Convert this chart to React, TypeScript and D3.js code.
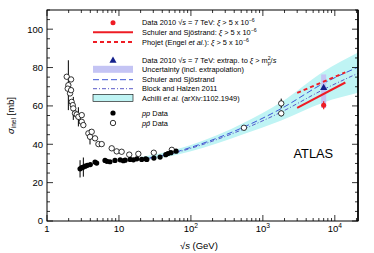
import React from "react";
import * as d3 from "d3";

const width = 374;
const height = 253;
const margin = { top: 10, right: 16, bottom: 32, left: 47 };
const font = "Liberation Sans, Arial, Helvetica, sans-serif";

// pp data: [sqrt(s) GeV, sigma_inel mb, error mb]
const ppData: [number, number, number][] = [
  [2.88, 27.2, 4.5], [3.05, 27.8, 0], [3.2, 28.1, 5], [3.4, 28.6, 0], [3.64, 29.0, 0],
  [4.0, 29.4, 0], [4.65, 30.7, 0], [4.9, 30.2, 0], [6.4, 31.6, 0], [6.8, 31.1, 0],
  [7.5, 30.9, 0], [8.8, 31.6, 0], [10.4, 31.9, 0], [11.5, 31.4, 0], [12.2, 31.7, 0],
  [14.3, 32.1, 0], [15.9, 31.9, 0], [17.7, 32.4, 0], [20.7, 32.1, 0], [23.5, 32.4, 0],
  [24.4, 32.1, 0], [30.6, 32.8, 0], [37.3, 33.3, 0], [44.7, 34.6, 0], [48.0, 35.2, 0],
  [52.8, 35.6, 0], [62.2, 36.4, 0],
];

// p-pbar data: [sqrt(s) GeV, sigma_inel mb, error mb]
const ppbarData: [number, number, number][] = [
  [1.88, 75.2, 0], [1.98, 70.8, 13], [1.94, 69.0, 0], [2.09, 66.5, 0], [2.16, 73.8, 0],
  [2.16, 68.2, 0], [2.2, 62.1, 0], [2.28, 60.4, 0], [2.32, 58.7, 6], [2.45, 56.1, 0],
  [2.59, 55.5, 0], [2.73, 54.3, 5], [3.04, 55.2, 0], [3.04, 51.7, 0], [3.2, 50.0, 0],
  [3.76, 45.7, 0], [3.96, 43.9, 4], [4.18, 46.5, 0], [4.65, 43.1, 0], [5.18, 40.1, 0],
  [5.76, 40.1, 0], [7.93, 37.9, 0], [9.3, 36.3, 0], [10.9, 36.1, 0], [13.9, 34.6, 0],
  [18.6, 35.0, 0], [30.5, 35.6, 0], [54.3, 37.1, 0], [546, 48.6, 0.8], [1800, 61.3, 2.5],
  [1800, 56.1, 1.5],
];

// ATLAS 2010 at 7 TeV
const atlasSqrtS = 7000;
const atlasXi = { value: 60.3, err: 2.1 };
const atlasExtrap = { value: 69.4, lo: 59.0, hi: 76.4 };

// predictions for xi > 5e-6
const ssXi: [number, number][] = [[3000, 59.0], [14000, 72.2]];
const phojetXi: [number, number][] = [[3000, 66.8], [14000, 77.5]];

// total inelastic predictions
const ssTotal: [number, number][] = [
  [20, 32.2], [50, 35.0], [100, 38.4], [546, 49.0], [1800, 58.6], [7000, 71.8], [21000, 80.2],
];
const blockHalzen: [number, number][] = [
  [20, 32.0], [50, 34.7], [100, 37.9], [546, 48.0], [1800, 56.8], [7000, 68.6], [21000, 77.0],
];
const achilliS = [20, 50, 100, 546, 1800, 7000, 21000];
const achilliLo = [31.4, 33.6, 36.3, 45.3, 52.4, 61.8, 66.8];
const achilliHi = [33.4, 36.4, 39.6, 51.2, 62.0, 78.0, 87.8];

const yTicks = d3.range(0, 111, 5);
const yLabels = [0, 20, 40, 60, 80, 100];
const xLabels = [1, 10, 100, 1000, 10000];

const red = "#ee1c24";
const blue = "#3d55d6";
const blueDark = "#14208c";

const Pow = ({ e, size }: { e: number; size: number }) =>
  e <= 1 ? <tspan>{e === 0 ? "1" : "10"}</tspan> : (
    <>
      <tspan>10</tspan>
      <tspan fontSize={size * 0.7} dy={-size * 0.4}>{e}</tspan>
    </>
  );

export default function App() {
  const x = d3.scaleLog().domain([1, 21000]).range([margin.left, width - margin.right]);
  const y = d3.scaleLinear().domain([0, 110]).range([height - margin.bottom, margin.top]);
  const x0 = margin.left, x1 = width - margin.right;
  const y0 = height - margin.bottom, y1 = margin.top;

  const line = d3
    .line<[number, number]>()
    .x((d) => x(d[0]))
    .y((d) => y(d[1]))
    .curve(d3.curveMonotoneX);
  const band = d3
    .area<number>()
    .x((d, i) => x(achilliS[i]))
    .y0((d, i) => y(achilliLo[i]))
    .y1((d, i) => y(achilliHi[i]))
    .curve(d3.curveMonotoneX);

  const xTicks = x.ticks();
  const isMajor = (v: number) => Math.abs(Math.log10(v) - Math.round(Math.log10(v))) < 1e-6;

  const lx0 = 93, lx1 = 133, lxc = 113, tx = 142;
  const fs = 7.4;
  const sup = (s: string) => (
    <tspan fontSize={5.2} dy={-3}>{s}</tspan>
  );
  const xi5 = (
    <>
      <tspan fontStyle="italic">ξ</tspan> {"> 5 x 10"}{sup("−6")}
    </>
  );

  return (
    <svg
      width={width}
      height={height}
      style={{ position: "absolute", left: 0, top: 0, background: "white" }}
      fontFamily={font}
    >
      <clipPath id="plot">
        <rect x={x0} y={y1} width={x1 - x0} height={y0 - y1} />
      </clipPath>

      <g clipPath="url(#plot)">
        <path d={band(achilliS) || ""} fill="#bff4f4" />
        <path d={line(ssTotal) || ""} fill="none" stroke={blue} strokeWidth={1} strokeDasharray="6,3" />
        <path d={line(blockHalzen) || ""} fill="none" stroke="#5a5ac8" strokeWidth={1} strokeDasharray="4,2,1,2" />
        <rect
          x={x(atlasSqrtS) - 2.5}
          y={y(atlasExtrap.hi)}
          width={5}
          height={y(atlasExtrap.lo) - y(atlasExtrap.hi)}
          fill="#c4c4f4"
        />
        <path d={line(ssXi) || ""} fill="none" stroke={red} strokeWidth={2} />
        <path d={line(phojetXi) || ""} fill="none" stroke={red} strokeWidth={2} strokeDasharray="4,3" />

        {ppbarData.map((d, i) =>
          d[2] > 0 ? (
            <line key={"pbe" + i} x1={x(d[0])} x2={x(d[0])} y1={y(d[1] - d[2])} y2={y(d[1] + d[2])} stroke="black" strokeWidth={1} />
          ) : null
        )}
        {ppData.map((d, i) =>
          d[2] > 0 ? (
            <line key={"ppe" + i} x1={x(d[0])} x2={x(d[0])} y1={y(d[1] - d[2])} y2={y(d[1] + d[2])} stroke="black" strokeWidth={1} />
          ) : null
        )}
        {ppbarData.map((d, i) => (
          <circle key={"pb" + i} cx={x(d[0])} cy={y(d[1])} r={2.7} fill="white" stroke="black" strokeWidth={0.8} />
        ))}
        {ppData.map((d, i) => (
          <circle key={"pp" + i} cx={x(d[0])} cy={y(d[1])} r={2.6} fill="black" />
        ))}

        <line
          x1={x(atlasSqrtS)} x2={x(atlasSqrtS)}
          y1={y(atlasXi.value - atlasXi.err)} y2={y(atlasXi.value + atlasXi.err)}
          stroke={red} strokeWidth={1.2}
        />
        <circle cx={x(atlasSqrtS)} cy={y(atlasXi.value)} r={2.5} fill={red} />
        <path
          d={d3.symbol(d3.symbolTriangle, 22)() || ""}
          transform={`translate(${x(atlasSqrtS)},${y(atlasExtrap.value)})`}
          fill={blueDark}
        />
      </g>

      {/* frame */}
      <rect x={x0} y={y1} width={x1 - x0} height={y0 - y1} fill="none" stroke="black" strokeWidth={1} />
      <line x1={x1} x2={x1} y1={y1} y2={y0} stroke="black" strokeWidth={1.6} />

      {/* x ticks */}
      {xTicks.map((v, i) => {
        const len = isMajor(v) ? 6 : 3;
        return (
          <g key={"xt" + i}>
            <line x1={x(v)} x2={x(v)} y1={y0} y2={y0 - len} stroke="black" strokeWidth={0.8} />
            <line x1={x(v)} x2={x(v)} y1={y1} y2={y1 + len} stroke="black" strokeWidth={0.8} />
          </g>
        );
      })}
      {xLabels.map((v) => (
        <text key={"xl" + v} x={x(v)} y={y0 + 11} textAnchor="middle" fontSize={9.5}>
          <Pow e={Math.round(Math.log10(v))} size={9.5} />
        </text>
      ))}

      {/* y ticks */}
      {yTicks.map((v) => {
        const len = v % 20 === 0 ? 6 : 3;
        return (
          <g key={"yt" + v}>
            <line x1={x0} x2={x0 + len} y1={y(v)} y2={y(v)} stroke="black" strokeWidth={0.8} />
            <line x1={x1} x2={x1 - len} y1={y(v)} y2={y(v)} stroke="black" strokeWidth={0.8} />
          </g>
        );
      })}
      {yLabels.map((v) => (
        <text key={"yl" + v} x={x0 - 4} y={y(v) + 3.4} textAnchor="end" fontSize={9.5}>
          {v}
        </text>
      ))}

      {/* axis titles */}
      <text x={x(100) + 8} y={249} textAnchor="middle" fontSize={9.5}>
        √<tspan fontStyle="italic">s</tspan> (GeV)
      </text>
      <text transform={`translate(14,${(y0 + y1) / 2}) rotate(-90)`} textAnchor="middle" fontSize={9.5}>
        <tspan fontStyle="italic">σ</tspan>
        <tspan fontSize={6.5} dy={2}>inel</tspan>
        <tspan dy={-2}> [mb]</tspan>
      </text>

      <text x={293.5} y={157.5} fontSize={12.8}>ATLAS</text>

      {/* legend */}
      <g fontSize={fs}>
        <circle cx={lxc} cy={22.7} r={2.5} fill={red} />
        <text x={tx} y={25.3}>
          Data 2010 √<tspan fontStyle="italic">s</tspan> = 7 TeV: {xi5}
        </text>

        <line x1={lx0} x2={lx1} y1={32.3} y2={32.3} stroke={red} strokeWidth={2} />
        <text x={tx} y={35}>Schuler and Sjöstrand: {xi5}</text>

        <line x1={lx0} x2={lx1} y1={42} y2={42} stroke={red} strokeWidth={2} strokeDasharray="4,3" />
        <text x={tx} y={44.7}>
          Phojet (Engel <tspan fontStyle="italic">et al.</tspan>): {xi5}
        </text>

        <path d={d3.symbol(d3.symbolTriangle, 22)() || ""} transform={`translate(${lxc},60.7)`} fill={blueDark} />
        <text x={tx} y={63.3}>
          Data 2010 √<tspan fontStyle="italic">s</tspan> = 7 TeV: extrap. to <tspan fontStyle="italic">ξ</tspan> {"> m"}
          <tspan fontSize={5.2} dy={-3}>2</tspan>
          <tspan fontSize={5.2} dx={-2.9} dy={5}>p</tspan>
          <tspan dy={-2}>/<tspan fontStyle="italic">s</tspan></tspan>
        </text>

        <rect x={lx0} y={65.8} width={lx1 - lx0} height={7} fill="#c4c4f4" />
        <text x={tx} y={72.2}>Uncertainty (incl. extrapolation)</text>

        <line x1={lx0} x2={lx1} y1={79.7} y2={79.7} stroke={blue} strokeWidth={1} strokeDasharray="6,3" />
        <text x={tx} y={82.4}>Schuler and Sjöstrand</text>

        <line x1={lx0} x2={lx1} y1={88.7} y2={88.7} stroke="#5a5ac8" strokeWidth={1} strokeDasharray="4,2,1,2" />
        <text x={tx} y={91.4}>Block and Halzen 2011</text>

        <rect x={lx0} y={94.3} width={lx1 - lx0} height={7} fill="#bff4f4" stroke="black" strokeWidth={0.6} />
        <text x={tx} y={100.6}>
          Achilli <tspan fontStyle="italic">et al.</tspan> (arXiv:1102.1949)
        </text>

        <circle cx={lxc} cy={113} r={2.6} fill="black" />
        <text x={tx} y={115.6}>
          <tspan fontStyle="italic">pp</tspan> Data
        </text>

        <circle cx={lxc} cy={123} r={2.7} fill="white" stroke="black" strokeWidth={0.8} />
        <text x={tx} y={125.6}>
          <tspan fontStyle="italic">pp̄</tspan> Data
        </text>
      </g>
    </svg>
  );
}
